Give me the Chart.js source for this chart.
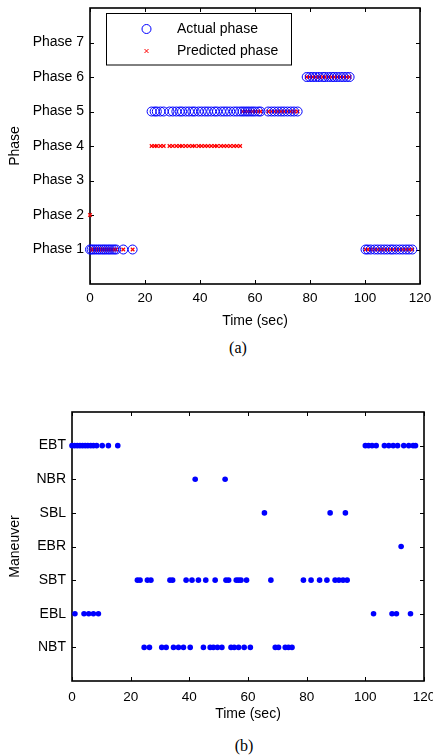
<!DOCTYPE html>
<html>
<head>
<meta charset="utf-8">
<script src="https://cdn.jsdelivr.net/npm/chart.js@4.4.0/dist/chart.umd.min.js"></script>
<style>
body { margin:0; background:#fff; width:433px; height:756px; position:relative; overflow:hidden; }
canvas { position:absolute; left:0; }
.cap { position:absolute; font-family:"Liberation Serif", "Times New Roman", serif; font-size:16px; width:40px; text-align:center; color:#000; }
</style>
</head>
<body>
<canvas id="phaseChart" width="433" height="330" style="top:0;width:433px;height:330px"></canvas>
<div class="cap" style="left:218px;top:339px">(a)</div>
<canvas id="maneuverChart" width="433" height="323" style="top:400px;width:433px;height:323px"></canvas>
<div class="cap" style="left:224px;top:737px">(b)</div>
<script>
// ---- (a) phase data ----
var phaseLabels = ['Phase 1', 'Phase 2', 'Phase 3', 'Phase 4', 'Phase 5', 'Phase 6', 'Phase 7'];
var timeTicks = [0, 20, 40, 60, 80, 100, 120];

var phaseTime = [
  0, 0.6, 1.3, 2.0, 2.8, 3.5, 4.3, 5.0, 5.7, 6.5, 7.2, 8.0, 8.8, 9.5, 12.1, 15.5,
  22.4, 23.5, 24.3, 25.6, 26.8, 28.9, 30.1, 31.4, 32.6, 33.5,
  34.8, 36.0, 37.2, 38.1, 39.5, 40.6, 41.8, 42.9, 44.1, 45.3,
  46.2, 47.6, 48.7, 49.8, 51.0, 52.3, 53.4, 54.6, 55.5, 56.4,
  57.3, 58.2, 59.1, 60.0, 61.2, 62.0, 64.8, 66.0, 67.1, 68.3,
  69.5, 70.6, 71.8, 73.0, 74.2, 75.5,
  78.8, 79.9, 81.0, 82.1, 83.3, 84.6, 85.4, 86.7, 87.9, 88.8, 89.9, 91.1, 92.2, 93.3, 94.4,
  100.2, 101.0, 102.1, 103.5, 104.6, 105.8, 107.0, 108.1, 109.3, 110.2, 111.4, 112.6, 113.7, 114.9, 116.0, 117.2
];
var actualPhase = [
  1, 1, 1, 1, 1, 1, 1, 1, 1, 1, 1, 1, 1, 1, 1, 1,
  5, 5, 5, 5, 5, 5, 5, 5, 5, 5,
  5, 5, 5, 5, 5, 5, 5, 5, 5, 5,
  5, 5, 5, 5, 5, 5, 5, 5, 5, 5,
  5, 5, 5, 5, 5, 5, 5, 5, 5, 5,
  5, 5, 5, 5, 5, 5,
  6, 6, 6, 6, 6, 6, 6, 6, 6, 6, 6, 6, 6, 6, 6,
  1, 1, 1, 1, 1, 1, 1, 1, 1, 1, 1, 1, 1, 1, 1, 1
];
var predictedPhase = [
  2, 1, 1, 1, 1, 1, 1, 1, 1, 1, 1, 1, 1, 1, 1, 1,
  4, 4, 4, 4, 4, 4, 4, 4, 4, 4,
  4, 4, 4, 4, 4, 4, 4, 4, 4, 4,
  4, 4, 4, 4, 4, 4, 4, 4, 5, 5,
  5, 5, 5, 5, 5, 5, 5, 5, 5, 5,
  5, 5, 5, 5, 5, 5,
  6, 6, 6, 6, 6, 6, 6, 6, 6, 6, 6, 6, 6, 6, 6,
  1, 1, 1, 1, 1, 1, 1, 1, 1, 1, 1, 1, 1, 1, 1, 1
];

// ---- (b) maneuver data (y = 1..7 from bottom) ----
var maneuvers = ['NBT', 'EBL', 'SBT', 'EBR', 'SBL', 'NBR', 'EBT'];
var nbtTimes = [24.6, 26.4, 30.6, 32.1, 34.6, 36.3, 38.0, 40.3, 44.8, 47.1, 48.2, 49.6, 51.1, 54.2, 55.3, 56.8, 58.7, 60.8, 69.3, 70.4, 72.7, 73.8, 75.0];
var eblTimes = [1.0, 4.1, 5.7, 7.3, 9.0, 102.8, 109.1, 110.6, 115.4];
var sbtTimes = [22.3, 23.2, 25.7, 26.9, 33.4, 34.3, 38.9, 40.9, 43.1, 45.6, 48.8, 52.5, 53.4, 56.0, 56.8, 57.6, 59.5, 67.8, 78.9, 81.5, 84.4, 86.9, 89.7, 91.0, 92.4, 93.8];
var ebrTimes = [112.2];
var sblTimes = [65.6, 88.0, 93.2];
var nbrTimes = [42.0, 52.2];
var ebtTimes = [0, 0.9, 1.8, 2.7, 3.6, 4.5, 5.4, 6.4, 7.3, 8.4, 10.3, 12.4, 15.6, 100.0, 101.1, 102.3, 103.7, 106.5, 108.0, 109.5, 111.0, 113.1, 114.8, 116.3, 117.1];
var maneuverTimes = [nbtTimes, eblTimes, sbtTimes, ebrTimes, sblTimes, nbrTimes, ebtTimes];

var FONT = '"Liberation Sans", Arial, Helvetica, sans-serif';

// box round the plot with inward tick marks, matlab style
var framePlugin = {
  id: 'frame',
  beforeDatasetsDraw: function(chart) {
    var ctx = chart.ctx, a = chart.chartArea;
    var xs = chart.scales.x, ys = chart.scales.y;
    var l = Math.round(a.left), r = Math.round(a.right);
    var t = Math.round(a.top), b = Math.round(a.bottom);
    ctx.save();
    ctx.strokeStyle = '#000';
    ctx.lineWidth = 1.6;
    ctx.strokeRect(l, t, r - l, b - t);
    ctx.lineWidth = 1;
    ctx.beginPath();
    timeTicks.forEach(function(v) {
      var px = Math.round(xs.getPixelForValue(v)) + 0.5;
      ctx.moveTo(px, b); ctx.lineTo(px, b - 4);
      ctx.moveTo(px, t); ctx.lineTo(px, t + 4);
    });
    for (var i = 1; i <= 7; i++) {
      var py = Math.round(ys.getPixelForValue(i)) + 0.5;
      ctx.moveTo(l, py); ctx.lineTo(l + 4, py);
      ctx.moveTo(r, py); ctx.lineTo(r - 4, py);
    }
    ctx.stroke();
    ctx.restore();
  }
};

var legendBox = {
  id: 'legendBox',
  afterDraw: function(chart) {
    var ctx = chart.ctx;
    ctx.save();
    ctx.fillStyle = '#fff';
    ctx.fillRect(106.5, 13.5, 185, 51.5);
    ctx.strokeStyle = '#000';
    ctx.lineWidth = 1;
    ctx.strokeRect(106.5, 13.5, 185, 51.5);
    ctx.strokeStyle = '#0000ff';
    ctx.beginPath();
    ctx.arc(146.5, 29, 4.5, 0, Math.PI * 2);
    ctx.stroke();
    ctx.strokeStyle = '#ff0000';
    ctx.beginPath();
    ctx.moveTo(144.5, 49); ctx.lineTo(148.5, 53);
    ctx.moveTo(148.5, 49); ctx.lineTo(144.5, 53);
    ctx.stroke();
    ctx.fillStyle = '#000';
    ctx.font = '14px ' + FONT;
    ctx.textBaseline = 'middle';
    ctx.fillText(chart.data.datasets[0].label, 177, 29);
    ctx.fillText(chart.data.datasets[1].label, 177, 51);
    ctx.restore();
  }
};

function axisOptions(yLabels, yTitle, yWidth, xHeight, tickPad) {
  return {
    x: {
      type: 'linear', min: 0, max: 120,
      grid: { display: false, drawTicks: false },
      border: { display: false },
      afterBuildTicks: function(s) { s.ticks = timeTicks.map(function(v) { return { value: v }; }); },
      ticks: { color: '#000', padding: tickPad, maxRotation: 0, autoSkip: false, font: { family: FONT, size: 13.5 } },
      title: { display: true, text: 'Time (sec)', color: '#000', font: { family: FONT, size: 14 }, padding: { top: 0, bottom: 0 } },
      afterFit: function(s) { s.height = xHeight; s.paddingLeft = 0; s.paddingRight = 0; }
    },
    y: {
      type: 'linear', min: 0, max: 8,
      grid: { display: false, drawTicks: false },
      border: { display: false },
      afterBuildTicks: function(s) { s.ticks = [1, 2, 3, 4, 5, 6, 7].map(function(v) { return { value: v }; }); },
      ticks: {
        color: '#000', padding: 6, autoSkip: false, font: { family: FONT, size: 14 },
        callback: function(v) { return yLabels[v - 1]; }
      },
      title: { display: true, text: yTitle, color: '#000', font: { family: FONT, size: 14 }, padding: { top: 7, bottom: 0 } },
      afterFit: function(s) { s.width = yWidth; s.paddingTop = 0; s.paddingBottom = 0; }
    }
  };
}

new Chart(document.getElementById('phaseChart'), {
  type: 'scatter',
  data: {
    datasets: [{
      label: 'Actual phase',
      data: phaseTime.map(function(t, i) { return { x: t, y: actualPhase[i] }; }),
      pointStyle: 'circle',
      pointRadius: 4.5,
      borderColor: '#0000ff',
      backgroundColor: 'rgba(0,0,0,0)',
      borderWidth: 1,
      clip: false
    }, {
      label: 'Predicted phase',
      data: phaseTime.map(function(t, i) { return { x: t, y: predictedPhase[i] }; }),
      pointStyle: 'crossRot',
      pointRadius: 2.5,
      borderColor: '#ff0000',
      borderWidth: 1.2,
      clip: false
    }]
  },
  options: {
    responsive: false,
    animation: false,
    events: [],
    layout: { padding: { top: 8, right: 13, left: 0, bottom: 0 } },
    plugins: { legend: { display: false }, tooltip: { enabled: false } },
    scales: axisOptions(phaseLabels, 'Phase', 90, 46, 6)
  },
  plugins: [framePlugin, legendBox]
});

var maneuverPoints = [];
maneuverTimes.forEach(function(list, k) {
  list.forEach(function(t) { maneuverPoints.push({ x: t, y: k + 1 }); });
});

new Chart(document.getElementById('maneuverChart'), {
  type: 'scatter',
  data: {
    datasets: [{
      label: 'Maneuver',
      data: maneuverPoints,
      pointStyle: 'circle',
      pointRadius: 2.8,
      backgroundColor: '#0000ff',
      borderWidth: 0,
      clip: false
    }]
  },
  options: {
    responsive: false,
    animation: false,
    events: [],
    layout: { padding: { top: 12, right: 9, left: 0, bottom: 0 } },
    plugins: { legend: { display: false }, tooltip: { enabled: false } },
    scales: axisOptions(maneuvers, 'Maneuver', 72, 42, 8)
  },
  plugins: [framePlugin]
});
</script>
</body>
</html>
